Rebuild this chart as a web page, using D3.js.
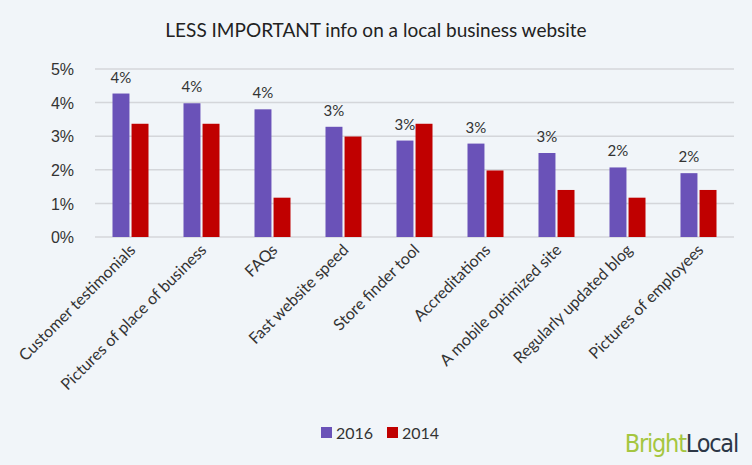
<!DOCTYPE html>
<html lang="en">
<head>
<meta charset="UTF-8">
<title>LESS IMPORTANT info on a local business website</title>
<style>
    body{margin:0;background:#f1f5f9;}
    svg{display:block;font-family:Lato, "Open Sans", sans-serif;}
    .grid line{stroke:#d4d6da;stroke-width:1.5px;}
    .axis text{font-size:16px;fill:#333;}
</style>
<script src="https://cdn.jsdelivr.net/npm/d3@7"></script>
</head>
<body>
<script>
    const categories = ["Customer testimonials","Pictures of place of business","FAQs","Fast website speed",
        "Store finder tool","Accreditations","A mobile optimized site","Regularly updated blog","Pictures of employees"];
    const values2016 = [4.27,3.98,3.8,3.28,2.87,2.78,2.5,2.07,1.9];
    const values2014 = [3.37,3.37,1.17,2.99,3.37,1.98,1.4,1.17,1.4];
    const yTicks = [0,1,2,3,4,5];
    const seriesNames = ["2016","2014"];
    const colors = ["#6a52b8","#c00000"];

    const width = 752, height = 465;
    const margins = {top:69, left:95, right:18, bottom:228};

    const svg = d3.select("body").append("svg").attr("width",width).attr("height",height);
    svg.append("rect").attr("width",width).attr("height",height).attr("fill","#f1f5f9");

    svg.append("text").attr("x",376).attr("y",37).attr("text-anchor","middle")
        .attr("font-size",19).attr("fill","#222")
        .text("LESS IMPORTANT info on a local business website");

    const x = d3.scaleBand().domain(categories).range([margins.left,width-margins.right]);
    const inner = d3.scaleBand().domain(seriesNames).range([0,36]).paddingInner(0.11);
    const y = d3.scaleLinear().domain([0,5]).range([height-margins.bottom,margins.top]);

    // gridlines
    svg.append("g").attr("class","grid").selectAll("line").data(yTicks).enter().append("line")
        .attr("x1",margins.left).attr("x2",width-margins.right)
        .attr("y1",d=>y(d)).attr("y2",d=>y(d));

    const yAxis = svg.append("g").attr("class","axis")
        .attr("transform",`translate(${margins.left-18},0)`)
        .call(d3.axisLeft(y).tickValues(yTicks).tickFormat(d=>d+"%").tickSize(0));
    yAxis.select(".domain").remove();
    yAxis.selectAll("text").attr("dy","0.35em");

    const data = categories.map((c,i)=>({cat:c, vals:[values2016[i],values2014[i]]}));
    const groups = svg.selectAll(".cat").data(data).enter().append("g")
        .attr("transform",d=>`translate(${x(d.cat)+x.bandwidth()/2-18},0)`);

    groups.selectAll("rect").data(d=>d.vals.map((v,j)=>({v,s:seriesNames[j],c:colors[j]}))).enter()
        .append("rect")
        .attr("x",d=>inner(d.s)).attr("width",inner.bandwidth())
        .attr("y",d=>y(d.v)).attr("height",d=>y(0)-y(d.v))
        .attr("fill",d=>d.c);

    groups.append("text")
        .attr("x",inner("2016")+inner.bandwidth()/2)
        .attr("y",d=>y(d.vals[0])-11)
        .attr("text-anchor","middle").attr("font-size",15).attr("fill","#333")
        .text(d=>Math.round(d.vals[0])+"%");

    // category labels
    svg.append("g").attr("class","axis").selectAll("text").data(categories).enter().append("text")
        .attr("transform",d=>`translate(${x(d)+x.bandwidth()/2+6},${y(0)+14}) rotate(-45)`)
        .attr("text-anchor","end").attr("font-size",16).attr("fill","#222")
        .text(d=>d);

    // legend
    const legend = svg.append("g").attr("transform","translate(321,433)");
    const li = legend.selectAll("g").data(seriesNames).enter().append("g")
        .attr("transform",(d,i)=>`translate(${i*66},0)`);
    li.append("rect").attr("y",-6).attr("width",11).attr("height",11).attr("fill",(d,i)=>colors[i]);
    li.append("text").attr("x",15).attr("dy","0.35em").attr("font-size",16).attr("fill","#333").text(d=>d);

    // logo
    const logo = svg.append("text").attr("x",738).attr("y",452).attr("text-anchor","end")
        .attr("font-size",25).attr("font-weight",300).attr("letter-spacing",-1.2)
        .style("font-family","'Liberation Sans Narrow','DejaVu Sans Condensed',sans-serif");
    logo.append("tspan").attr("fill","#a5c640").text("Bright");
    logo.append("tspan").attr("fill","#2c3646").text("Local");
</script>
</body>
</html>
